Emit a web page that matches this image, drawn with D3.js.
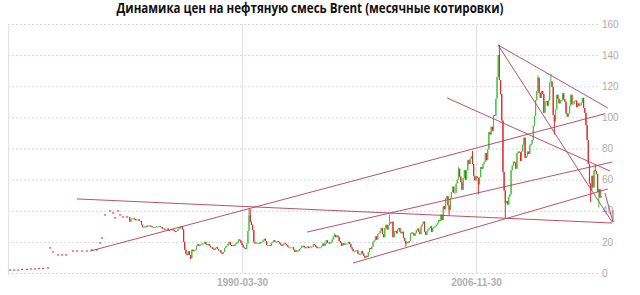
<!DOCTYPE html>
<html lang="ru">
<head>
  <meta charset="UTF-8">
  <title>Динамика цен на нефтяную смесь Brent</title>
  <style>
    body { margin: 0; background: #fff; }
    svg { display: block; font-family: 'Liberation Sans', Arial, sans-serif; }
    .yaxis line { stroke: #d6d6d6; stroke-dasharray: 2,2; }
    .yaxis text { fill: #ababab; font-size: 10px; }
    .xaxis line { stroke: #e2e2e2; }
    .xaxis text { fill: #b0b0b0; font-size: 10px; font-weight: bold; }
    .domain { display: none; }
  </style>
</head>
<body>
  <svg id="chart" width="640" height="295"></svg>

  <script src="https://d3js.org/d3.v7.min.js"></script>
  <script>
    // early quotes (shown as single dashes before the candles start)
    const earlyDates = ['1973-09-20', '1974-01-04', '1974-04-20', '1974-07-30', '1974-12-05', '1975-03-20',
      '1975-07-01', '1975-10-15', '1976-01-27', '1976-06-05', '1976-07-27', '1976-10-15', '1977-02-22',
      '1977-06-05', '1977-09-17', '1978-03-18', '1978-06-28', '1978-11-05', '1979-03-15', '1979-07-22',
      '1979-12-01', '1980-02-18', '1980-04-08', '1980-06-28', '1980-11-05', '1981-01-23', '1981-03-15',
      '1981-06-03', '1981-07-24', '1981-10-09', '1982-01-22']
    const earlyPrices = [1.9, 1.9, 1.9, 2.3, 2.3, 2.6, 2.6, 2.9, 2.9, 3.2, 16.1, 13.5, 11.6, 11.6, 11.6,
      14.1, 14.1, 14.1, 14.1, 14.8, 14.8, 19.3, 22.5, 37.3, 39.9, 38.6, 35.4, 39.9, 37.3, 36, 36]

    // monthly closes, first month is 1982-03
    const firstMonth = '1982-03'
    const close1982 = [33, 34.5, 35, 35, 34.5, 34, 34.5, 34.5, 33.5, 33.5]
    const close1983 = [31, 29.5, 29.5, 30, 29.5, 30.5, 30.5, 30.5, 30, 29.5, 29.5, 29.5]
    const close1984 = [29.5, 30, 30, 30, 29.5, 29.5, 28.5, 28.5, 28, 28, 28.5, 27.5]
    const close1985 = [27.5, 28, 28, 27.5, 27, 26.5, 27, 28, 28.5, 29.5, 30, 28]
    const close1986 = [20, 15, 12.5, 11.5, 14, 11.5, 9.5, 15, 14, 14.5, 15, 17.5]
    const close1987 = [18.5, 17.5, 18, 18.5, 19, 19, 20, 18.5, 18, 18.5, 17.5, 16.5]
    const close1988 = [16.5, 15.5, 15, 16, 16.5, 15.5, 14.5, 14.5, 13, 12.5, 13.5, 16]
    const close1989 = [17, 17.5, 19, 20, 18, 17.5, 18, 17.5, 18.5, 19.5, 19.5, 21.5]
    const close1990 = [21, 19.5, 18, 16.5, 16, 15.5, 19, 27, 37, 33, 31, 27.5]
    const close1991 = [20, 19, 19.5, 19.5, 19.5, 19, 20, 20, 21, 22, 20.5, 18]
    const close1992 = [18, 18, 17.5, 19.5, 20, 21, 20, 20, 20.5, 20, 19, 18]
    const close1993 = [17.5, 18.5, 19, 18.5, 18, 17, 16.5, 16.5, 16.5, 16.5, 15, 13.5]
    const close1994 = [14.5, 14, 14, 15.5, 16, 17.5, 17.5, 16.5, 16, 16.5, 17, 16]
    const close1995 = [16.5, 17, 17, 18.5, 18, 17, 16, 16.5, 16.5, 16.5, 17.5, 19]
    const close1996 = [17.5, 19, 21, 19.5, 19.5, 19, 20, 21.5, 23.5, 24.5, 23, 24]
    const close1997 = [23, 20.5, 19.5, 17.5, 19, 18, 19, 19, 19, 20, 18.5, 16.5]
    const close1998 = [15.5, 14, 14, 14.5, 14.5, 12.5, 12, 12, 14, 12.5, 11, 10]
    const close1999 = [11, 10.5, 13.5, 16, 15.5, 17, 20, 21, 23.5, 21.5, 25, 25.5]
    const close2000 = [27, 29, 25, 23, 29, 31, 28, 30.5, 32.5, 32, 33, 23]
    const close2001 = [27, 27, 25.5, 28, 29, 26.5, 25.5, 26.5, 22.5, 20.5, 19, 20]
    const close2002 = [19.5, 20.5, 25.5, 26, 25.5, 24, 25.5, 27.5, 28.5, 26.5, 25, 30]
    const close2003 = [31.5, 33, 26.5, 24.5, 27, 28, 29, 30, 26.5, 29, 29.5, 30]
    const close2004 = [31, 32, 34, 33.5, 37.5, 34, 43, 41, 48, 49.5, 43.5, 40.5]
    const close2005 = [48, 52, 55.5, 51.5, 51.5, 57.5, 60, 67, 62, 58.5, 53.5, 61]
    const close2006 = [66, 60, 66, 72.5, 70, 73.5, 75, 70, 62.5, 59.5, 62, 61]
    const close2007 = [57, 61.5, 68, 67, 70, 71.5, 77, 72.5, 79.5, 90.5, 89, 94]
    const close2008 = [91.5, 101.5, 101, 112, 126, 140, 124, 115, 98, 65, 53, 45]
    const close2009 = [46, 44, 49, 50.5, 66, 69, 71.5, 71, 67, 77, 78, 77.5]
    const close2010 = [72, 78, 82.5, 87, 74, 75, 78, 76.5, 82, 83, 85.5, 94.5]
    const close2011 = [101, 111, 117, 125.5, 115.5, 112.5, 117, 115, 103, 110, 110.5, 107.5]
    const close2012 = [111, 122.5, 123, 119.5, 101.5, 97.5, 105, 114.5, 112, 109, 111, 111]
    const close2013 = [115.5, 111.5, 110, 102.5, 100.5, 102.5, 107.5, 114.5, 108.5, 108.5, 110.5, 110.8]
    const close2014 = [106.5, 109, 107.5, 108, 109.5, 112.5, 106, 103, 95, 85.5, 70, 57.5]
    const close2015 = [53, 62.5, 55, 66, 65.5, 63.5, 52, 54, 48.5, 49.5]

    // monthly highs / lows that stick out of the candle bodies
    const wickHighs = [['1990-09', 41.5], ['1990-10', 41], ['1996-10', 25.5], ['2000-09', 37.5],
      ['2005-08', 68], ['2006-08', 78.5], ['2008-07', 146.5], ['2011-04', 127], ['2012-03', 128], ['2015-05', 69.5]]
    const wickLows = [['1986-07', 9], ['1988-10', 12], ['1998-12', 9.5], ['2001-11', 17], ['2004-12', 37],
      ['2007-01', 50.5], ['2008-12', 35.5], ['2012-06', 89], ['2015-01', 45.5], ['2015-08', 42]]

    // hand drawn trend lines: [start date, start price, end date, end price]
    const trendLines = [
      ['1979-06-03', 14.1, '2016-01-12', 102.2],
      ['1978-06-28', 47.6, '2016-08-08', 32.1],
      ['1994-11-17', 26.3, '2016-08-08', 71.3],
      ['1998-02-24', 6.4, '2016-04-23', 54],
      ['2004-11-07', 112.5, '2016-06-17', 65.5],
      ['2008-06-25', 146.5, '2016-08-08', 32.8],
      ['2008-06-25', 146.5, '2016-04-23', 106],
      ['2016-02-06', 51.4, '2016-09-03', 32.8],
      ['2016-09-03', 40.5, '2016-09-03', 32.8]
    ]

    const yTicks = [0, 20, 40, 60, 80, 100, 120, 140, 160]
    const xTickLabels = ['1990-03-30', '2006-11-30']

    const parse = d3.timeParse('%Y-%m-%d')
    const parseMonth = d3.timeParse('%Y-%m')
    const fmtMonth = d3.timeFormat('%Y-%m')

    const svg = d3.select('#chart')

    const plotLeft = 8
    const plotRight = 598
    const plotTop = 24
    const plotBottom = 273

    // x: dates on a time scale anchored by the two labelled dates
    const x = d3.scaleTime()
      .domain(xTickLabels.map(parse))
      .range([242, 476])

    const y = d3.scaleLinear()
      .domain([0, 160])
      .range([plotBottom, plotTop])

    // title
    svg.append('text')
      .attr('x', 310)
      .attr('y', 13)
      .attr('text-anchor', 'middle')
      .attr('font-family', "'Open Sans', sans-serif")
      .attr('font-size', 13.5)
      .attr('font-weight', 'bold')
      .attr('fill', '#111')
      .attr('textLength', 387)
      .attr('lengthAdjust', 'spacingAndGlyphs')
      .text('Динамика цен на нефтяную смесь Brent (месячные котировки)')

    // y axis with dotted grid
    svg.append('g')
      .attr('class', 'yaxis')
      .attr('transform', `translate(${plotRight}, 0)`)
      .call(d3.axisRight(y).tickValues(yTicks).tickSize(-(plotRight - plotLeft)).tickPadding(4))

    // x axis with vertical grid
    svg.append('g')
      .attr('class', 'xaxis')
      .attr('transform', `translate(0, ${plotBottom})`)
      .call(d3.axisBottom(x)
        .tickValues(xTickLabels.map(parse))
        .tickFormat(d3.timeFormat('%Y-%m-%d'))
        .tickSize(-(plotBottom - plotTop))
        .tickPadding(6))

    // left border
    svg.append('line')
      .attr('x1', plotLeft + 0.5).attr('x2', plotLeft + 0.5)
      .attr('y1', plotTop).attr('y2', plotBottom + 2)
      .attr('stroke', '#e2e2e2')

    // early dashes
    svg.append('g')
      .selectAll('rect')
      .data(earlyDates.map((d, i) => ({ date: parse(d), price: earlyPrices[i] })))
      .join('rect')
      .attr('x', d => x(d.date) - 1.1)
      .attr('y', d => y(d.price) - 0.6)
      .attr('width', 2.2)
      .attr('height', 1.2)
      .attr('fill', '#e24a4a')

    // candles
    const closes = [].concat(close1982, close1983, close1984, close1985, close1986, close1987, close1988,
      close1989, close1990, close1991, close1992, close1993, close1994, close1995, close1996, close1997,
      close1998, close1999, close2000, close2001, close2002, close2003, close2004, close2005, close2006,
      close2007, close2008, close2009, close2010, close2011, close2012, close2013, close2014, close2015)

    const highByMonth = new Map(wickHighs)
    const lowByMonth = new Map(wickLows)

    const candles = closes.map((c, i) => {
      const month = d3.timeMonth.offset(parseMonth(firstMonth), i)
      const date = d3.timeDay.offset(d3.timeMonth.offset(month, 1), -1)
      const open = i === 0 ? earlyPrices[earlyPrices.length - 1] : closes[i - 1]
      const key = fmtMonth(month)
      return {
        date, open, close: c,
        high: highByMonth.has(key) ? highByMonth.get(key) : Math.max(open, c),
        low: lowByMonth.has(key) ? lowByMonth.get(key) : Math.min(open, c)
      }
    })

    const up = '#44c23a'
    const down = '#e02a2a'
    const candleWidth = 1.1

    const candleGroup = svg.append('g')

    candleGroup.selectAll('line')
      .data(candles)
      .join('line')
      .attr('x1', d => x(d.date))
      .attr('x2', d => x(d.date))
      .attr('y1', d => y(d.high))
      .attr('y2', d => y(d.low))
      .attr('stroke', d => d.close >= d.open ? up : down)
      .attr('stroke-width', 1)

    candleGroup.selectAll('rect')
      .data(candles)
      .join('rect')
      .attr('x', d => x(d.date) - candleWidth / 2)
      .attr('y', d => y(Math.max(d.open, d.close)))
      .attr('width', candleWidth)
      .attr('height', d => Math.max(1, Math.abs(y(d.open) - y(d.close))))
      .attr('fill', d => d.close >= d.open ? up : down)

    // trend lines
    svg.append('g')
      .selectAll('line')
      .data(trendLines)
      .join('line')
      .attr('x1', d => x(parse(d[0])))
      .attr('y1', d => y(d[1]))
      .attr('x2', d => x(parse(d[2])))
      .attr('y2', d => y(d[3]))
      .attr('stroke', '#b5405a')
      .attr('stroke-width', 1)
      .attr('opacity', 0.9)
  </script>
</body>
</html>
